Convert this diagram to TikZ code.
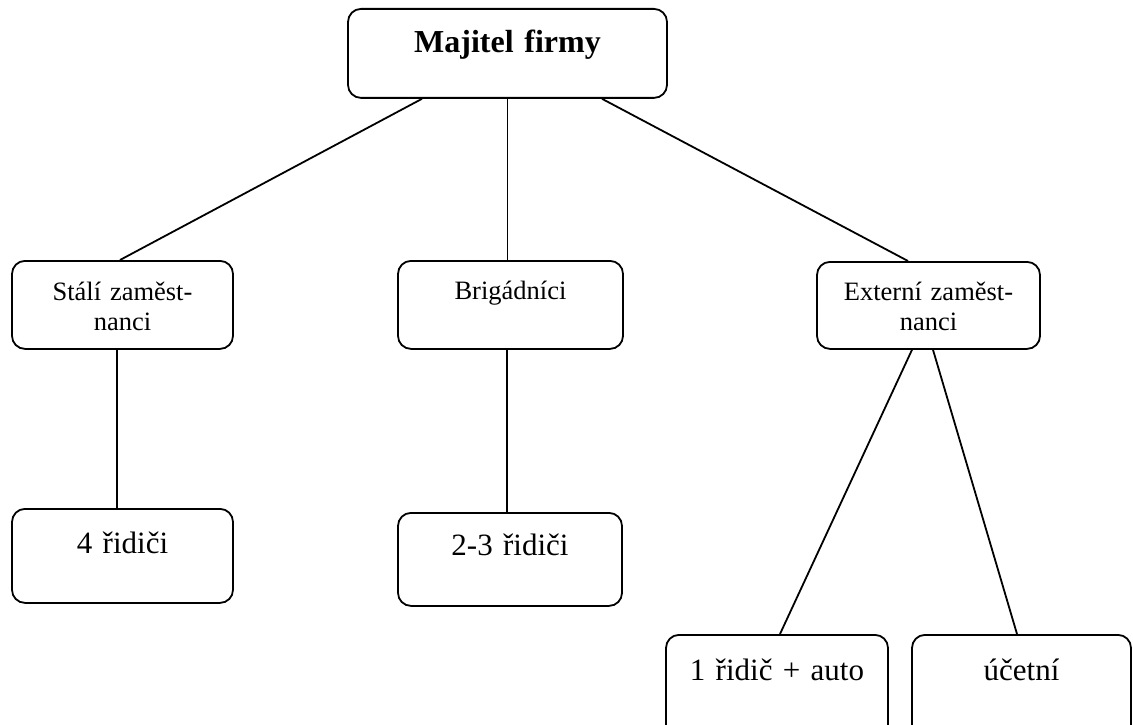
\documentclass[tikz,border=0pt]{standalone}
\usepackage{fontspec}
\setmainfont{Liberation Serif}
\usetikzlibrary{positioning, calc}

\tikzset{
  orgbox/.style={draw, rounded corners=13pt, line width=1.8pt, inner sep=0pt, align=center, anchor=north},
  midtext/.style={font=\fontsize{26.5}{30}\selectfont},
  lowtext/.style={font=\fontsize{31}{36}\selectfont},
  conn/.style={line width=1.8pt},
}

\begin{document}
\begin{tikzpicture}[x=1pt, y=-1pt]
\clip (0,0) rectangle (1133,725);

% vlastnik
\node (own) [orgbox, text width=319pt, text height=44pt, text depth=45pt, font=\fontsize{32}{37}\selectfont\bfseries] at (507.5,8) {Majitel firmy};

% skupiny zamestnancu
\node (stali) [orgbox, midtext, text width=221pt, text height=40pt, text depth=48pt] at (122.5,260) {Stálí zaměst-\\nanci};
\node (brig) [orgbox, midtext, text width=225pt, text height=39pt, text depth=49pt] at (510.5,260) {Brigádníci};
\node (ext) [orgbox, midtext, text width=223pt, text height=39pt, text depth=48pt] at (928.5,261) {Externí zaměst-\\nanci};

% ridici
\node (ridici4) [orgbox, lowtext, text width=221pt, text height=45pt, text depth=49pt] at (122.5,508) {4 řidiči};
\node (ridici23) [orgbox, lowtext, text width=224pt, text height=43pt, text depth=50pt] at (510,512) {2-3 řidiči};
\node (auto) [orgbox, lowtext, text width=222pt, text height=46pt, text depth=60pt] at (777,634) {1 řidič + auto};
\node (ucetni) [orgbox, lowtext, text width=219pt, text height=46pt, text depth=60pt] at (1021.5,634) {účetní};

\draw [conn] ([xshift=-85.5pt]own.south) -- ([xshift=-2.5pt]stali.north);
\draw [conn] (own.south) -- (own.south |- brig.north);
\draw [conn] ([xshift=94.5pt]own.south) -- ([xshift=-20.5pt]ext.north);

\draw [conn] ([xshift=-5.5pt]stali.south) -- ([xshift=-5.5pt]stali.south |- ridici4.north);
\draw [conn] ([xshift=-3.5pt]brig.south) -- ([xshift=-3.5pt]brig.south |- ridici23.north);
\draw [conn] ([xshift=-16.5pt]ext.south) -- ([xshift=3pt]auto.north);
\draw [conn] ([xshift=4.5pt]ext.south) -- ([xshift=-4.5pt]ucetni.north);
\end{tikzpicture}
\end{document}
